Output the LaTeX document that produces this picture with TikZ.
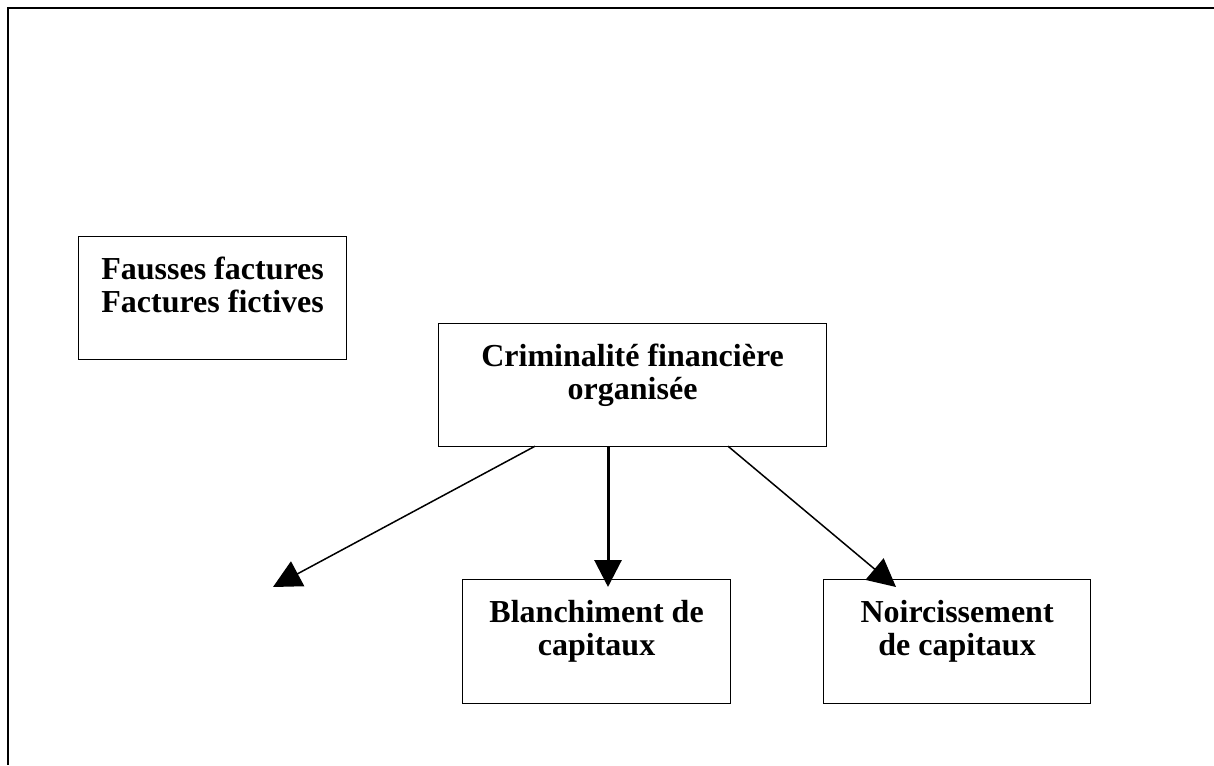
\documentclass[tikz,border=0pt]{standalone}
\usepackage{fontspec}
\setmainfont{Liberation Serif}
\usetikzlibrary{arrows.meta,calc}
\begin{document}
\begin{tikzpicture}[x=1pt,y=-1pt,
  box/.style={draw, line width=1.2pt, anchor=north west, inner sep=0pt},
  lbl/.style={anchor=north, inner sep=0pt, align=center, font=\bfseries\fontsize{32}{33}\selectfont},
  thinarrow/.style={line width=1.5pt, -{Triangle[length=28pt,width=28pt]}},
  thickarrow/.style={line width=3pt, -{Triangle[length=27pt,width=27pt]}}]
\useasboundingbox (0,0) rectangle (1214,765);
% page frame
\coordinate (frtl) at (8,8);
\coordinate (frtr) at (1214,8);
\coordinate (frbl) at (8,765);
\draw[line width=1.5pt] (frtr) -- (frtl) -- (frbl);
% boxes
\node[box, minimum width=268pt, minimum height=123pt] (f) at (78,236) {};
\node[box, minimum width=388pt, minimum height=123pt] (c) at (438,323) {};
\node[box, minimum width=268pt, minimum height=124pt] (b) at (462,579) {};
\node[box, minimum width=267pt, minimum height=124pt] (n) at (823,579) {};
% labels
\node[lbl] (ft) at ($(f.north)+(0,19)$) {\rule{0pt}{24pt}Fausses factures\\Factures fictives};
\node[lbl] (ct) at ($(c.north)+(0,19)$) {\rule{0pt}{24pt}Criminalité financière\\organisée};
\node[lbl] (bt) at ($(b.north)+(0,19)$) {\rule{0pt}{24pt}Blanchiment de\\capitaux};
\node[lbl] (nt) at ($(n.north)+(0,19)$) {\rule{0pt}{24pt}Noircissement\\de capitaux};
% connectors
\coordinate (lt) at (273,587);
\draw[thinarrow] ($(c.south west)+(97,-1)$) -- (lt);
\draw[thickarrow] ($(c.south west)+(170,-1)$) -- ($(b.north west)+(146,8)$);
\draw[thinarrow] ($(c.south west)+(290,-1)$) -- ($(n.north west)+(73,8)$);
\end{tikzpicture}
\end{document}
